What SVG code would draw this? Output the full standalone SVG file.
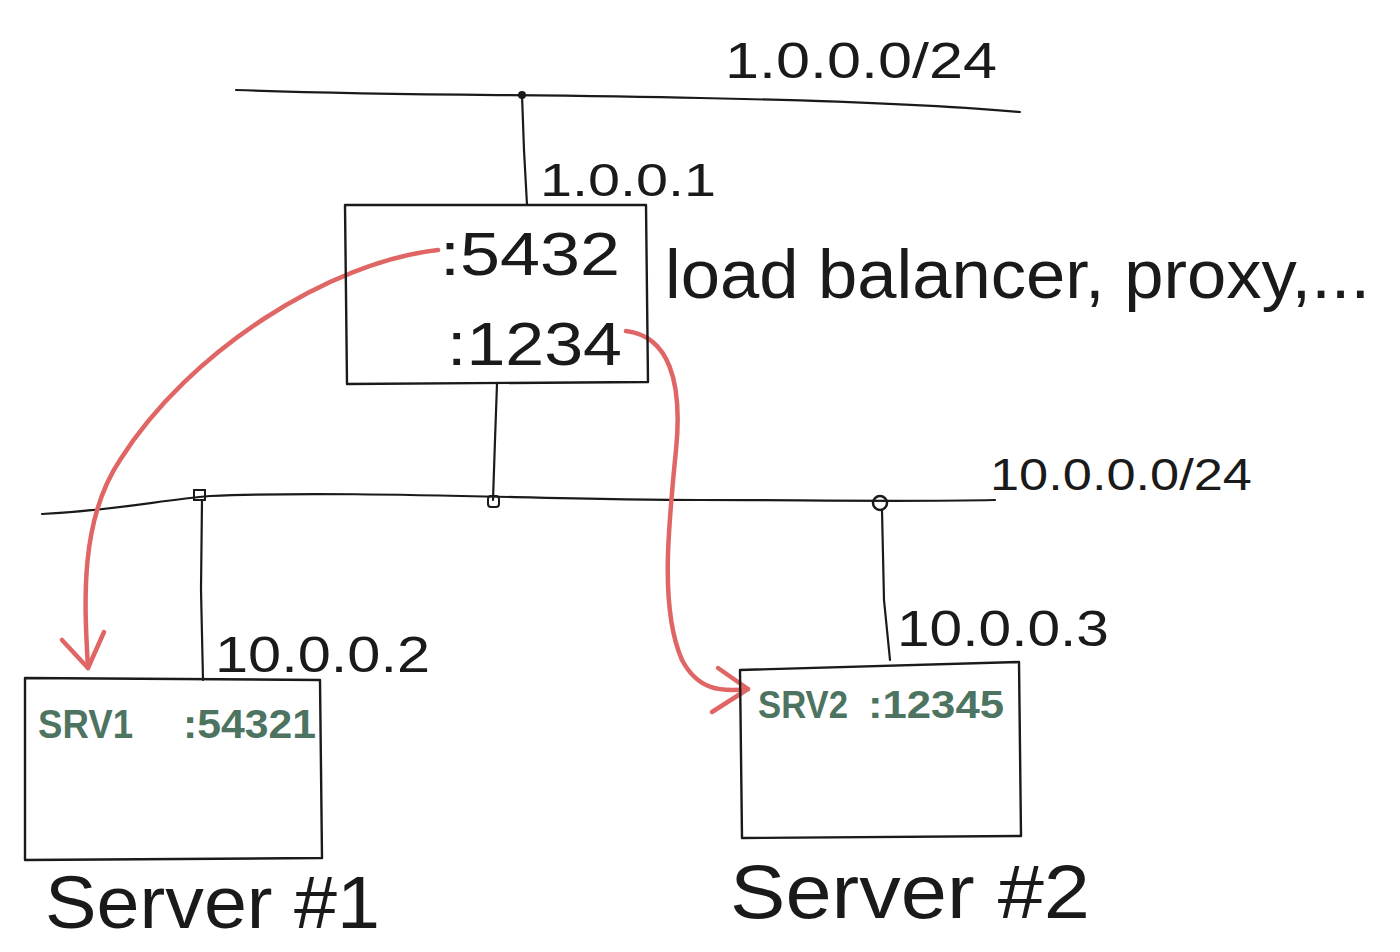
<svg xmlns="http://www.w3.org/2000/svg" width="1400" height="952" viewBox="0 0 1400 952">
<style>
.ln{fill:none;stroke:#1a1a1a;stroke-width:2.2;stroke-linecap:round;stroke-linejoin:round}
.box{fill:none;stroke:#1a1a1a;stroke-width:2.4;stroke-linejoin:round}
.red{fill:none;stroke:#e06666;stroke-width:4.5;stroke-linecap:round;stroke-linejoin:round}
.t{font-family:"Liberation Sans","DejaVu Sans",sans-serif;fill:#1a1a1a}
.g{font-family:"Liberation Sans","DejaVu Sans",sans-serif;fill:#4d7361;font-weight:bold}
</style>
<rect width="1400" height="952" fill="#ffffff"/>
<g id="connectors">
<path class="ln" d="M236,90 C400,96 520,94 700,98 C850,101 950,106 1020,112"/>
<path class="ln" d="M522,95 L524,150 L527,205"/>
<circle cx="522" cy="95" r="4" fill="#1a1a1a"/>
<path class="ln" d="M497,384 L495,440 L493,500"/>
<path class="ln" d="M42,514 C120,510 160,500 210,496 C350,490 550,500 700,500 C800,500 900,502 995,500"/>
<rect x="194" y="490" width="11" height="10" fill="none" stroke="#1a1a1a" stroke-width="2"/>
<rect x="488" y="496" width="11" height="11" rx="3" fill="none" stroke="#1a1a1a" stroke-width="2"/>
<circle cx="880" cy="503" r="7" fill="none" stroke="#1a1a1a" stroke-width="2.5"/>
<path class="ln" d="M202,500 L201,590 L203,680"/>
<path class="ln" d="M882,510 L884,600 L890,660"/>
<path class="red" d="M438,250 C330,262 190,350 120,460 C80,520 84,600 88,668"/>
<path class="red" d="M62,640 L88,668 L104,632"/>
<path class="red" d="M626,331 C668,336 683,380 676,450 C668,530 660,610 682,660 C698,690 720,692 748,689"/>
<path class="red" d="M718,668 L748,689 L712,712"/>
</g>
<g id="net1">
<text class="t" x="725" y="78" font-size="50" textLength="272" lengthAdjust="spacingAndGlyphs">1.0.0.0/24</text>
</g>
<g id="lb">
<text class="t" x="540" y="196" font-size="46" textLength="176" lengthAdjust="spacingAndGlyphs">1.0.0.1</text>
<path class="box" d="M345,205 L646,205 L648,382 L347,384 Z"/>
<text class="t" x="440" y="275" font-size="62" textLength="180" lengthAdjust="spacingAndGlyphs">:5432</text>
<text class="t" x="447" y="365" font-size="62" textLength="175" lengthAdjust="spacingAndGlyphs">:1234</text>
<text class="t" x="665" y="298" font-size="68" textLength="705" lengthAdjust="spacingAndGlyphs">load balancer, proxy,...</text>
</g>
<g id="net2">
<text class="t" x="990" y="490" font-size="44" textLength="262" lengthAdjust="spacingAndGlyphs">10.0.0.0/24</text>
</g>
<g id="server1">
<text class="t" x="215" y="672" font-size="50" textLength="215" lengthAdjust="spacingAndGlyphs">10.0.0.2</text>
<path class="box" d="M25,678 L320,680 L322,858 L25,860 Z"/>
<text class="g" x="38" y="738" font-size="40" textLength="95" lengthAdjust="spacingAndGlyphs">SRV1</text>
<text class="g" x="183" y="738" font-size="40" textLength="133" lengthAdjust="spacingAndGlyphs">:54321</text>
<text class="t" x="45" y="928" font-size="74" textLength="335" lengthAdjust="spacingAndGlyphs">Server #1</text>
</g>
<g id="server2">
<text class="t" x="897" y="646" font-size="50" textLength="212" lengthAdjust="spacingAndGlyphs">10.0.0.3</text>
<path class="box" d="M740,670 L1019,662 L1021,836 L742,838 Z"/>
<text class="g" x="758" y="718" font-size="38" textLength="90" lengthAdjust="spacingAndGlyphs">SRV2</text>
<text class="g" x="868" y="718" font-size="38" textLength="136" lengthAdjust="spacingAndGlyphs">:12345</text>
<text class="t" x="730" y="918" font-size="76" textLength="360" lengthAdjust="spacingAndGlyphs">Server #2</text>
</g>
</svg>
